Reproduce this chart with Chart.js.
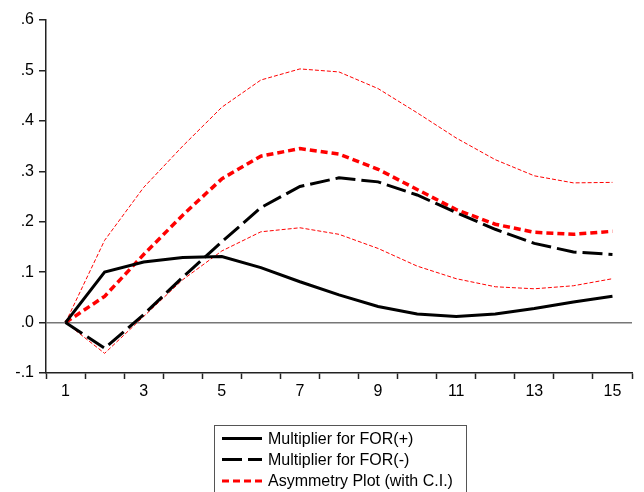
<!DOCTYPE html>
<html>
<head>
<meta charset="utf-8">
<script src="https://cdn.jsdelivr.net/npm/chart.js@4/dist/chart.umd.min.js"></script>
<style>
  html, body { margin: 0; padding: 0; background: #fff; }
  #grafico { display: block; }
</style>
</head>
<body>
<canvas id="grafico" width="644" height="492"></canvas>
<script>
const periodos = ['1', '2', '3', '4', '5', '6', '7', '8', '9', '10', '11', '12', '13', '14', '15'];
const multPositivo = [0, 0.100, 0.120, 0.129, 0.131, 0.109, 0.081, 0.055, 0.032, 0.017, 0.012, 0.017, 0.028, 0.041, 0.052];
const multNegativo = [0, -0.051, 0.016, 0.090, 0.160, 0.228, 0.270, 0.287, 0.279, 0.253, 0.218, 0.185, 0.157, 0.140, 0.135];
const asimetria = [0, 0.052, 0.135, 0.213, 0.285, 0.330, 0.345, 0.334, 0.304, 0.264, 0.224, 0.195, 0.179, 0.175, 0.181];
const bandaSuperior = [0, 0.163, 0.268, 0.350, 0.427, 0.481, 0.503, 0.497, 0.464, 0.416, 0.366, 0.323, 0.291, 0.277, 0.278];
const bandaInferior = [0, -0.061, 0.012, 0.085, 0.142, 0.180, 0.188, 0.175, 0.147, 0.112, 0.087, 0.071, 0.067, 0.073, 0.087];
const etiquetasLeyenda = ['Multiplier for FOR(+)', 'Multiplier for FOR(-)', 'Asymmetry Plot (with C.I.)'];

const fuente = 'Arial, "Liberation Sans", sans-serif';
const colorEje = '#222';

// leyenda con recuadro debajo del grafico
const leyendaCaja = {
    id: 'leyendaCaja',
    afterDraw(chart) {
        const ctx = chart.ctx;
        const x = 214, y = 425, w = 252;
        ctx.save();
        ctx.strokeStyle = '#555';
        ctx.lineWidth = 1;
        ctx.strokeRect(x + 0.5, y + 0.5, w, 80);
        ctx.font = '16px ' + fuente;
        ctx.textBaseline = 'middle';
        ctx.fillStyle = '#000';
        const filas = [438.5, 459.5, 481];
        for (let i = 0; i < 3; i++) {
            const ds = chart.data.datasets[i];
            ctx.beginPath();
            ctx.strokeStyle = ds.borderColor;
            ctx.lineWidth = 3;
            ctx.setLineDash(ds.borderDash || []);
            ctx.moveTo(222, filas[i]);
            ctx.lineTo(262, filas[i]);
            ctx.stroke();
            ctx.setLineDash([]);
            ctx.fillText(etiquetasLeyenda[i], 268, filas[i] + 1);
        }
        ctx.restore();
    }
};

const grafico = new Chart(document.getElementById('grafico'), {
    type: 'line',
    data: {
        labels: periodos,
        datasets: [
            {
                label: etiquetasLeyenda[0],
                data: multPositivo,
                borderColor: '#000',
                borderWidth: 3
            },
            {
                label: etiquetasLeyenda[1],
                data: multNegativo,
                borderColor: '#000',
                borderWidth: 3,
                borderDash: [20, 6]
            },
            {
                label: etiquetasLeyenda[2],
                data: asimetria,
                borderColor: '#ff0000',
                borderWidth: 3.5,
                borderDash: [7, 4]
            },
            {
                label: 'upper',
                data: bandaSuperior,
                borderColor: '#ff0000',
                borderWidth: 1,
                borderDash: [4, 2]
            },
            {
                label: 'lower',
                data: bandaInferior,
                borderColor: '#ff0000',
                borderWidth: 1,
                borderDash: [4, 2]
            }
        ]
    },
    options: {
        responsive: false,
        animation: false,
        elements: {
            point: { radius: 0 },
            line: { tension: 0, fill: false, borderCapStyle: 'butt' }
        },
        layout: { padding: { top: 20, right: 12, bottom: 0, left: 0 } },
        scales: {
            x: {
                type: 'category',
                offset: true,
                afterFit: (scale) => { scale.height = 119; },
                grid: {
                    offset: true,
                    drawOnChartArea: false,
                    tickLength: 6,
                    tickColor: colorEje,
                    tickWidth: 1.5
                },
                border: { color: colorEje, width: 1.5 },
                ticks: {
                    autoSkip: false,
                    maxRotation: 0,
                    padding: 3,
                    color: '#000',
                    font: { family: fuente, size: 16 },
                    callback: (v, i) => (i % 2 === 0 ? periodos[i] : '')
                }
            },
            y: {
                min: -0.1,
                max: 0.6,
                afterFit: (scale) => { scale.width = 46; },
                grid: {
                    color: (c) => (Math.abs(c.tick.value) < 1e-9 ? '#777' : 'rgba(0,0,0,0)'),
                    lineWidth: 1.5,
                    tickLength: 7,
                    tickColor: colorEje,
                    tickWidth: 1.5
                },
                border: { color: colorEje, width: 1.5 },
                ticks: {
                    stepSize: 0.1,
                    padding: 5,
                    color: '#000',
                    font: { family: fuente, size: 16 },
                    callback: (v) => (Math.round(v * 10) / 10).toFixed(1).replace('0.', '.')
                }
            }
        },
        plugins: {
            legend: { display: false },
            tooltip: { enabled: false }
        }
    },
    plugins: [leyendaCaja]
});
</script>
</body>
</html>
